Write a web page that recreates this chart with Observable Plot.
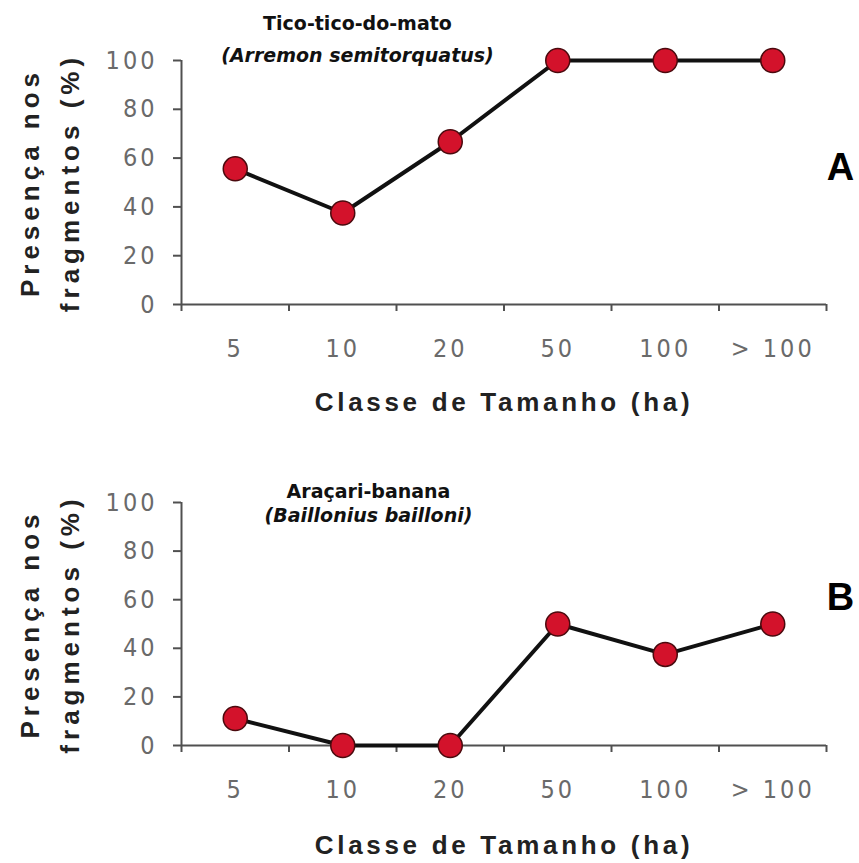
<!DOCTYPE html>
<html>
<head>
<meta charset="utf-8">
<script src="https://cdn.jsdelivr.net/npm/d3@7"></script>
<script src="https://cdn.jsdelivr.net/npm/@observablehq/plot@0.6"></script>
<style>
  body { margin: 0; background: #fff; }
  #chart svg { display: block; }
  g[aria-label="x-axis tick label"] text,
  g[aria-label="y-axis tick label"] text { letter-spacing: 3px; }
</style>
</head>
<body>
<div id="chart"></div>
<script>
// ---- data ----
const categories = ["5", "10", "20", "50", "100", "> 100"];
const presencaA = [55.6, 37.5, 66.7, 100, 100, 100];
const presencaB = [11.1, 0, 0, 50, 37.5, 50];
const yTicks = [0, 20, 40, 60, 80, 100];
const speciesA = ["Tico-tico-do-mato", "(Arremon semitorquatus)"];
const speciesB = ["Araçari-banana", "(Baillonius bailloni)"];
const panelLabels = ["A", "B"];
const yTitle = "Presença nos\nfragmentos (%)";
const xTitle = "Classe de Tamanho (ha)";

const narrow = "'Liberation Sans Narrow', 'Arial Narrow', 'DejaVu Sans Condensed', sans-serif";
const titleFont = "'DejaVu Sans', Verdana, sans-serif";
const axisColor = "#505050";
const labelColor = "#6a6a6a";

function panel(values, species, letter, o) {
  const data = categories.map((c, i) => ({pos: i + 0.5, label: c, value: values[i]}));
  const boundaries = d3.range(categories.length + 1);
  return Plot.plot({
    width: 859,
    height: o.height,
    marginLeft: 181,
    marginRight: 33,
    marginTop: o.marginTop,
    marginBottom: o.marginBottom,
    style: {fontFamily: "'Liberation Sans', Arial, sans-serif", fontSize: "16px", background: "#fff", overflow: "visible"},
    x: {type: "linear", domain: [0, categories.length], axis: null},
    y: {domain: [0, 100], axis: null},
    marks: [
      Plot.ruleY([0], {stroke: axisColor, strokeWidth: 2}),
      Plot.ruleX([0], {stroke: axisColor, strokeWidth: 2}),
      Plot.axisX({ticks: boundaries, tickSize: 7, tickFormat: () => "", stroke: axisColor, strokeWidth: 2, label: null}),
      Plot.axisX({ticks: data.map(d => d.pos), tickFormat: v => categories[Math.floor(v)], tickSize: 0, tickPadding: 35,
                  fontSize: 25, fontFamily: narrow, fill: labelColor, label: null}),
      Plot.axisY({ticks: yTicks, tickSize: 8, tickPadding: 16, stroke: axisColor, strokeWidth: 2,
                  fontSize: 25, fontFamily: narrow, fill: labelColor, label: null}),
      Plot.line(data, {x: "pos", y: "value", stroke: "#111", strokeWidth: 4}),
      Plot.dot(data, {x: "pos", y: "value", r: 12, fill: "#d3122b", stroke: "#4a0a0e", strokeWidth: 1.5}),
      Plot.text([species[0]], {text: d => d, frameAnchor: "top", textAnchor: "middle", lineAnchor: "middle",
                  dx: o.titleDx, dy: o.titleDy1, fontFamily: titleFont, fontWeight: "bold", fontSize: 19, fill: "#111"}),
      Plot.text([species[1]], {text: d => d, frameAnchor: "top", textAnchor: "middle", lineAnchor: "middle",
                  dx: o.titleDx, dy: o.titleDy2, fontFamily: titleFont, fontWeight: "bold", fontStyle: "italic", fontSize: 19, fill: "#111"}),
      Plot.text([yTitle], {text: d => d, frameAnchor: "left", textAnchor: "middle", lineAnchor: "middle",
                  dx: -135, rotate: -90, fontWeight: "bold", fontSize: 26, lineHeight: 1.54, fill: "#222"}),
      Plot.text([xTitle], {text: d => d, frameAnchor: "bottom", textAnchor: "middle", lineAnchor: "middle",
                  dy: o.xTitleDy, fontWeight: "bold", fontSize: 26, fill: "#222"}),
      Plot.text([letter], {text: d => d, frameAnchor: "right", textAnchor: "middle", lineAnchor: "middle",
                  dx: 14, dy: o.letterDy, fontWeight: "bold", fontSize: 38, fill: "#000"})
    ]
  });
}

const chart = document.getElementById("chart");
chart.append(panel(presencaA, speciesA, panelLabels[0], {
  height: 430, marginTop: 60, marginBottom: 126,
  titleDx: -146.5, titleDy1: -37, titleDy2: -5, xTitleDy: 98, letterDy: -15
}));
chart.append(panel(presencaB, speciesB, panelLabels[1], {
  height: 433, marginTop: 72, marginBottom: 118,
  titleDx: -135.5, titleDy1: -11, titleDy2: 13, xTitleDy: 100, letterDy: -26.5
}));

// letter spacing for the axis titles (styling only)
d3.select(chart).selectAll("text")
  .filter(function () { return this.textContent.startsWith("Presença"); })
  .style("letter-spacing", "5px");
d3.select(chart).selectAll("text")
  .filter(function () { return this.textContent === xTitle; })
  .style("letter-spacing", "3.7px");
</script>
</body>
</html>
